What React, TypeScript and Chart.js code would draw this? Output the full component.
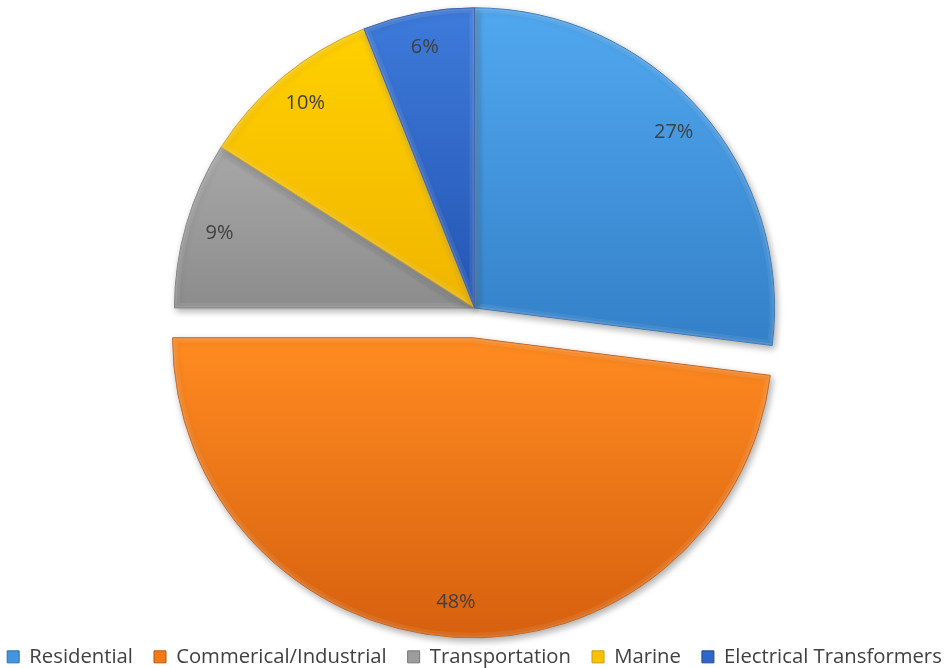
import React, { useEffect, useRef } from 'react';
import { Chart, registerables } from 'chart.js';

Chart.register(...registerables);

const categories = ['Residential', 'Commerical/Industrial', 'Transportation', 'Marine', 'Electrical Transformers'];
const shares = [27, 48, 9, 10, 6];
const topColors = ['#51A8EF', '#FF8B21', '#A8A8A8', '#FFD000', '#3E7BDA'];
const bottomColors = ['#3380C8', '#D6600E', '#8C8C8C', '#F0B500', '#2455B4'];
const midColors = ['#4495DF', '#F47A18', '#9C9C9C', '#F9C300', '#3066C8'];
const edgeColors = ['#2D6EB0', '#BE560C', '#767676', '#CF9B00', '#1F4896'];
const explodedIndex = 1;
const explodeDistance = 30;
const pieRadius = 300;

const LEGEND_FONT = '"Open Sans", sans-serif';

function sectorYRange(arc: any) {
  let ymin = arc.y;
  let ymax = arc.y;
  const steps = 64;
  for (let k = 0; k <= steps; k++) {
    const a = arc.startAngle + ((arc.endAngle - arc.startAngle) * k) / steps;
    const y = arc.y + Math.sin(a) * arc.outerRadius;
    if (y < ymin) ymin = y;
    if (y > ymax) ymax = y;
  }
  return [ymin, ymax];
}

function sectorPath(c: CanvasRenderingContext2D, arc: any) {
  c.beginPath();
  c.moveTo(arc.x, arc.y);
  c.arc(arc.x, arc.y, arc.outerRadius, arc.startAngle, arc.endAngle);
  c.closePath();
}

export default function App() {
  const ref = useRef<HTMLCanvasElement | null>(null);

  useEffect(() => {
    document.body.style.margin = '0';
    const canvas = ref.current!;

    const piePlugin = {
      id: 'pieExtras',
      afterDatasetsUpdate(chart: any) {
        const meta = chart.getDatasetMeta(0);
        const arc = meta.data[explodedIndex];
        if (arc) {
          const mid = (arc.startAngle + arc.endAngle) / 2;
          arc.x += Math.cos(mid) * explodeDistance;
          arc.y += Math.sin(mid) * explodeDistance;
        }
        meta.data.forEach((el: any, i: number) => {
          const [y0, y1] = sectorYRange(el);
          const g = chart.ctx.createLinearGradient(0, y0, 0, y1);
          g.addColorStop(0, topColors[i]);
          g.addColorStop(1, bottomColors[i]);
          el.options.backgroundColor = g;
        });
      },
      beforeDatasetsDraw(chart: any) {
        const c = chart.ctx;
        c.save();
        c.shadowColor = 'rgba(0,0,0,0.32)';
        c.shadowBlur = 7;
        c.shadowOffsetX = 2;
        c.shadowOffsetY = 3;
      },
      afterDatasetsDraw(chart: any) {
        const c = chart.ctx as CanvasRenderingContext2D;
        c.restore();
        const meta = chart.getDatasetMeta(0);
        // subtle bevel
        meta.data.forEach((arc: any) => {
          c.save();
          sectorPath(c, arc);
          c.clip();
          sectorPath(c, arc);
          c.lineJoin = 'round';
          c.lineWidth = 10;
          c.strokeStyle = 'rgba(255,255,255,0.08)';
          c.stroke();
          c.lineWidth = 4;
          c.strokeStyle = 'rgba(255,255,255,0.10)';
          c.stroke();
          c.restore();
        });
        const total = shares.reduce((a, b) => a + b, 0);
        c.save();
        c.font = '20px "Open Sans", sans-serif';
        c.fillStyle = '#404040';
        c.textAlign = 'center';
        c.textBaseline = 'middle';
        meta.data.forEach((arc: any, i: number) => {
          const mid = (arc.startAngle + arc.endAngle) / 2;
          const r = arc.outerRadius * 0.885;
          const pct = Math.round((shares[i] / total) * 100);
          c.fillText(pct + '%', arc.x + Math.cos(mid) * r, arc.y + Math.sin(mid) * r);
        });
        c.restore();
      },
    };

    const chart = new Chart(canvas, {
      type: 'pie',
      data: {
        labels: categories,
        datasets: [
          {
            data: shares,
            backgroundColor: midColors,
            borderColor: edgeColors,
            borderWidth: 1,
            radius: pieRadius,
            clip: false,
          } as any,
        ],
      },
      options: {
        responsive: false,
        animation: false,
        devicePixelRatio: 1,
        layout: { padding: 0 },
        plugins: {
          tooltip: { enabled: false },
          legend: {
            position: 'bottom',
            labels: {
              boxWidth: 12,
              boxHeight: 12,
              padding: 21,
              color: '#404040',
              font: { family: LEGEND_FONT, size: 20.3 },
              generateLabels: () =>
                categories.map((t, i) => ({
                  text: t,
                  fillStyle: midColors[i],
                  strokeStyle: edgeColors[i],
                  lineWidth: 1,
                  hidden: false,
                  index: i,
                  datasetIndex: 0,
                  fontColor: '#404040',
                })),
            },
          },
        },
      } as any,
      plugins: [piePlugin],
    });
    return () => chart.destroy();
  }, []);

  return (
    <div style={{ width: 951, height: 668, overflow: 'hidden', position: 'relative', background: '#fff' }}>
      <canvas ref={ref} width={1051} height={687} style={{ position: 'absolute', left: -51, top: -10, display: 'block' }} />
    </div>
  );
}
